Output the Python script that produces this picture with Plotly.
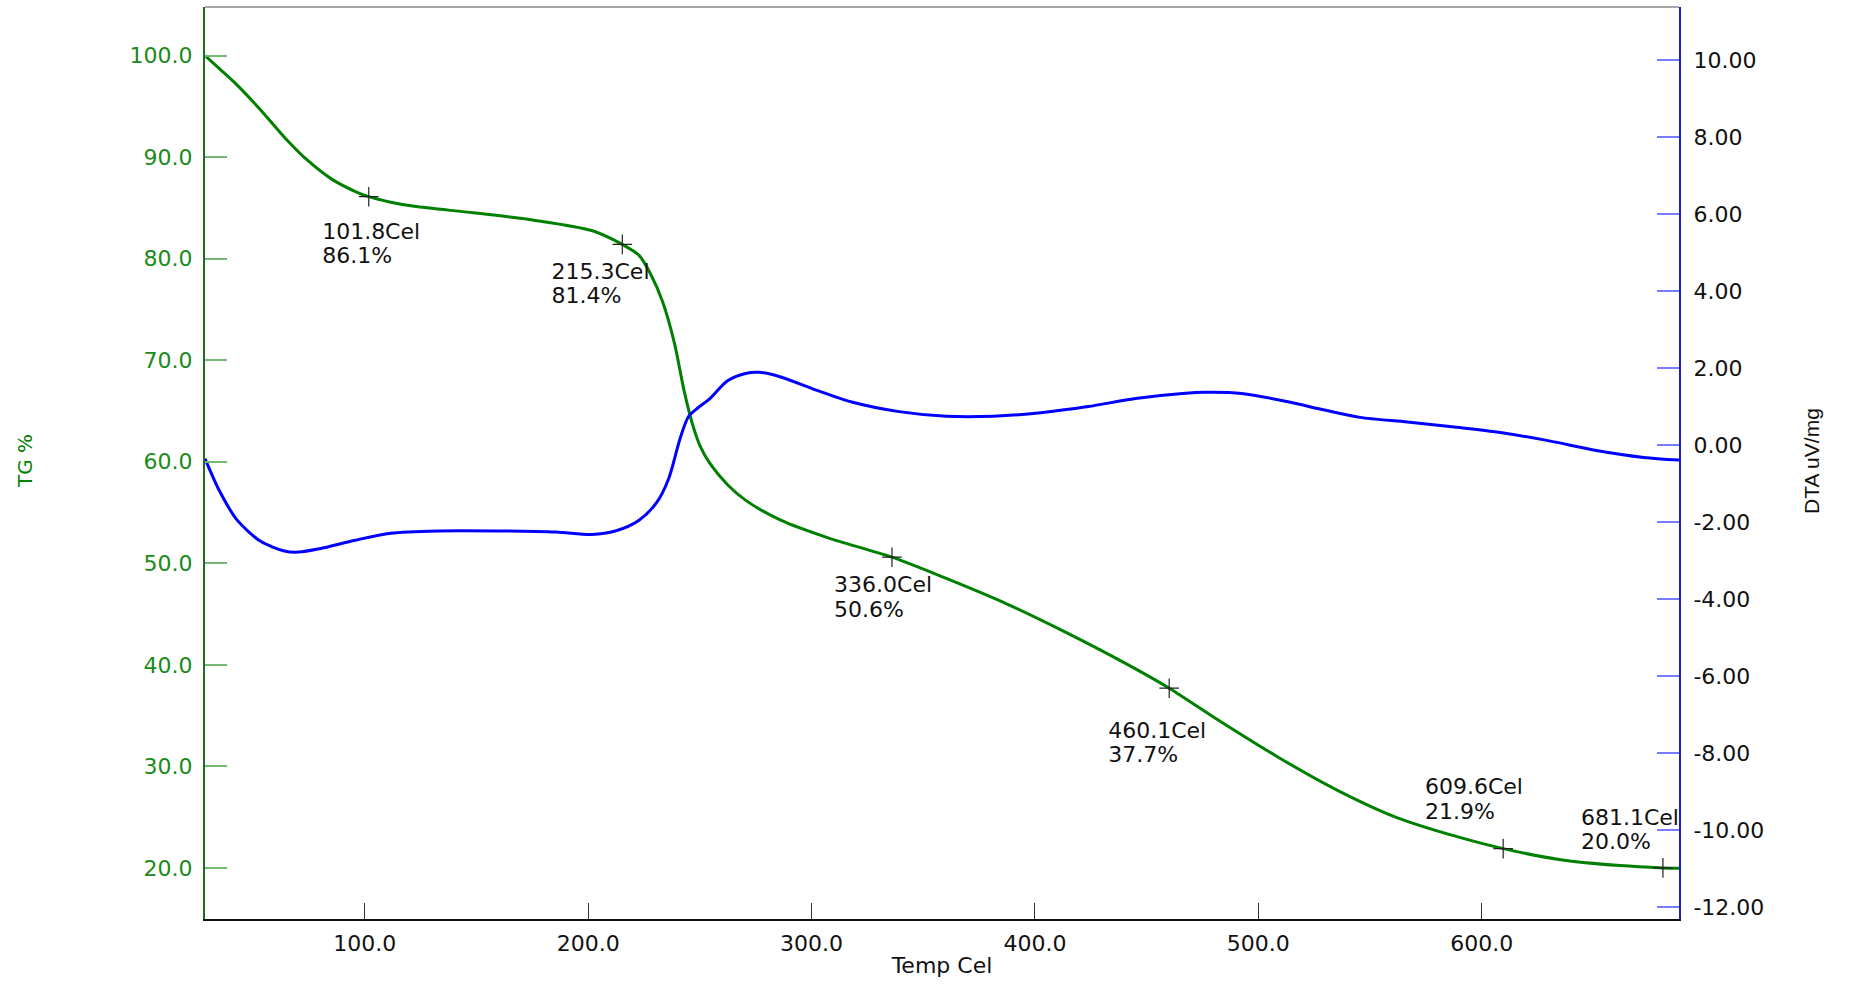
import plotly.graph_objects as go

# ---------------- data ----------------
tg_temp = [28.5, 34.9, 42.9, 53.4, 64.0, 74.6, 85.2, 95.8, 101.8, 111.6, 122.2, 148.7,
           175.1, 201.6, 215.3, 222.8, 228.0, 233.3, 238.6, 242.9, 246.6, 250.3, 254.5,
           262.4, 270.4, 286.2, 307.4, 336.0, 360.3, 386.8, 413.2, 439.7, 460.1, 482.0,
           508.5, 535.0, 561.4, 587.8, 609.6, 635.4, 661.9, 681.1, 688.3]
tg_pct = [100.0, 98.72, 97.09, 94.64, 91.96, 89.64, 87.83, 86.61, 86.1, 85.56, 85.15, 84.51,
          83.81, 82.77, 81.4, 80.32, 78.46, 75.78, 71.71, 67.05, 63.78, 61.46, 59.83,
          57.73, 56.22, 54.24, 52.5, 50.6, 48.51, 46.06, 43.27, 40.24, 37.7, 34.56,
          30.95, 27.69, 25.01, 23.15, 21.9, 20.81, 20.23, 20.0, 19.96]

dta_temp = [28.5, 34.9, 42.9, 53.4, 64.0, 70.4, 79.9, 95.8, 111.6, 132.8, 159.3, 185.7,
            201.6, 212.2, 222.8, 230.7, 236.0, 241.3, 245.0, 249.2, 254.5, 262.4, 270.4,
            276.7, 286.2, 302.1, 318.0, 339.2, 360.3, 381.5, 402.6, 423.8, 445.0, 466.1,
            476.7, 492.6, 513.8, 529.6, 545.5, 566.7, 587.8, 609.0, 630.2, 651.3, 672.5, 688.3]
dta_uv = [-0.35, -1.18, -1.95, -2.50, -2.75, -2.78, -2.69, -2.47, -2.29, -2.23, -2.23, -2.26,
          -2.32, -2.23, -1.95, -1.49, -0.88, 0.20, 0.75, 0.97, 1.21, 1.67, 1.86,
          1.89, 1.77, 1.43, 1.12, 0.87, 0.75, 0.75, 0.84, 1.00, 1.21, 1.34,
          1.37, 1.34, 1.12, 0.91, 0.72, 0.60, 0.47, 0.32, 0.11, -0.14, -0.32, -0.39]

mark_temp = [101.8, 215.3, 336.0, 460.1, 609.6, 681.1]
mark_pct = [86.1, 81.4, 50.6, 37.7, 21.9, 20.0]

x_ticks = [100, 200, 300, 400, 500, 600]
tg_ticks = [20, 30, 40, 50, 60, 70, 80, 90, 100]
dta_ticks = [-12, -10, -8, -6, -4, -2, 0, 2, 4, 6, 8, 10]

# ---------------- layout constants ----------------
W, H = 1854, 984
ML, MR, MT, MB = 205, 175, 7, 65
X_RANGE = [28.5, 688.3]
Y_RANGE = [14.97, 104.78]
Y2_RANGE = [-12.31, 11.38]
plot_w = W - ML - MR
plot_h = H - MT - MB
px_x = plot_w / (X_RANGE[1] - X_RANGE[0])
px_y = plot_h / (Y_RANGE[1] - Y_RANGE[0])

# label offsets (pixels) of the first text line relative to each marker
label_dx = [-46.6, -70.8, -57.9, -61.0, -78.2, -82.0]
label_dy = [36.5, 29.0, 29.5, 44.0, -60.0, -48.5]
line_gap = 24.5

GREEN = "#008000"
BLUE = "#0000ff"
FONT = "DejaVu Sans"

fig = go.Figure()

fig.add_trace(go.Scatter(x=dta_temp, y=dta_uv, mode="lines", yaxis="y2",
                         line=dict(color=BLUE, width=3, shape="spline", smoothing=0.8),
                         showlegend=False, hoverinfo="skip"))
fig.add_trace(go.Scatter(x=tg_temp, y=tg_pct, mode="lines",
                         line=dict(color=GREEN, width=3, shape="spline", smoothing=0.8),
                         showlegend=False, hoverinfo="skip"))
fig.add_trace(go.Scatter(x=mark_temp, y=mark_pct, mode="markers",
                         marker=dict(symbol="cross-thin", size=14,
                                     line=dict(color="#222222", width=1.2)),
                         showlegend=False, hoverinfo="skip", cliponaxis=False))

lab_x = [t + dx / px_x for t, dx in zip(mark_temp, label_dx)]
lab_y1 = [p - dy / px_y for p, dy in zip(mark_pct, label_dy)]
lab_y2 = [p - (dy + line_gap) / px_y for p, dy in zip(mark_pct, label_dy)]
fig.add_trace(go.Scatter(x=lab_x, y=lab_y1, mode="text",
                         text=[f"{t:.1f}Cel" for t in mark_temp],
                         textposition="middle right", cliponaxis=True,
                         textfont=dict(family=FONT, size=22, color="#111111"),
                         showlegend=False, hoverinfo="skip"))
fig.add_trace(go.Scatter(x=lab_x, y=lab_y2, mode="text",
                         text=[f"{p:.1f}%" for p in mark_pct],
                         textposition="middle right", cliponaxis=True,
                         textfont=dict(family=FONT, size=22, color="#111111"),
                         showlegend=False, hoverinfo="skip"))

fig.update_layout(
    width=W, height=H,
    margin=dict(l=ML, r=MR, t=MT, b=MB, pad=0),
    paper_bgcolor="white", plot_bgcolor="white",
    font=dict(family=FONT, size=22, color="#111111"),
    xaxis=dict(range=X_RANGE, tickvals=x_ticks, ticktext=[f"{v:.1f}" for v in x_ticks],
               ticks="inside", ticklen=16, tickwidth=1, tickcolor="#333333",
               showline=True, linecolor="#111111", linewidth=2,
               showgrid=False, zeroline=False, ticklabelstandoff=4,
               tickfont=dict(family=FONT, size=22, color="#111111"),
               title=dict(text="Temp Cel", font=dict(family=FONT, size=22, color="#111111"),
                          standoff=2)),
    yaxis=dict(range=Y_RANGE, tickvals=tg_ticks, ticktext=[f"{v:.1f}" for v in tg_ticks],
               ticks="inside", ticklen=22, tickwidth=1.5, tickcolor="#74b874",
               showline=True, linecolor="#1e6e1e", linewidth=2,
               showgrid=False, zeroline=False, ticklabelstandoff=6,
               tickfont=dict(family=FONT, size=22, color="#1a8a1a")),
    yaxis2=dict(range=Y2_RANGE, tickvals=dta_ticks, ticktext=[f"{v:.2f}" for v in dta_ticks],
                overlaying="y", side="right",
                ticks="inside", ticklen=22, tickwidth=1.5, tickcolor="#7b7bff",
                showline=True, linecolor="#1a1ad0", linewidth=2,
                showgrid=False, zeroline=False, ticklabelstandoff=8,
                tickfont=dict(family=FONT, size=22, color="#111111")),
    shapes=[dict(type="line", xref="paper", yref="paper", x0=0, x1=1, y0=1, y1=1,
                 line=dict(color="#888888", width=1.5))],
    annotations=[
        dict(text="TG %", xref="paper", yref="paper",
             x=(25 - ML) / plot_w, y=(H - MB - 461) / plot_h,
             xanchor="center", yanchor="middle", textangle=-90, showarrow=False,
             font=dict(family=FONT, size=20, color=GREEN)),
        dict(text="DTA uV/mg", xref="paper", yref="paper",
             x=(1811 - ML) / plot_w, y=(H - MB - 461) / plot_h,
             xanchor="center", yanchor="middle", textangle=-90, showarrow=False,
             font=dict(family="Liberation Sans", size=21, color="#111111")),
    ],
)

fig.write_html("out.html", config={"displayModeBar": False},
               post_script="document.body.style.margin='0px';")
